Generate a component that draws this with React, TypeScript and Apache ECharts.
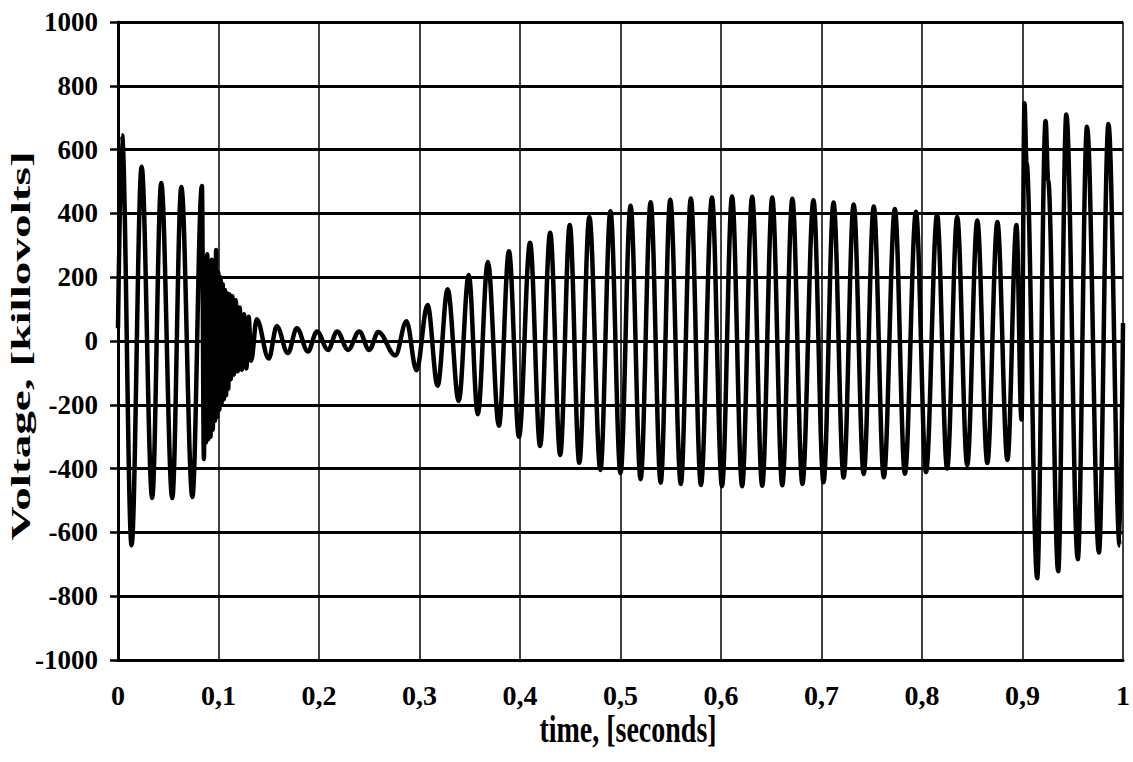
import React, { useEffect, useRef } from "react";
import * as echarts from "echarts";

// time [s], voltage [kV] at the extrema of the waveform
const preFault: [number, number][] = [
  [0, 40], [0.004, 645], [0.0135, -640], [0.0235, 546], [0.034, -492],
  [0.043, 495], [0.054, -492], [0.063, 483], [0.074, -489], [0.0835, 486],
];

const faultTransient: [number, number][] = [
  [0.0855, -370], [0.0866, 262], [0.0877, -318], [0.0888, 272], [0.0899, -308],
  [0.091, 245], [0.0921, -300], [0.0932, 255], [0.0943, -278], [0.0954, 230],
  [0.0965, -250], [0.0976, 285], [0.0987, -238], [0.0998, 215], [0.1009, -215],
  [0.102, 200], [0.1031, -195], [0.1042, 178], [0.1053, -182], [0.1064, 160],
  [0.1075, -170], [0.1086, 150], [0.1097, -150], [0.1108, 146], [0.1121, -120],
  [0.1137, 140], [0.1154, -105], [0.1172, 128], [0.1191, -95], [0.1211, 105],
  [0.1232, -90], [0.1254, 84], [0.1277, -86], [0.13, 76], [0.1325, -62],
];

const lowPhase: [number, number][] = [
  [0.138, 68], [0.15, -55], [0.158, 46], [0.169, -38], [0.178, 40],
  [0.189, -33], [0.198, 30], [0.209, -28], [0.218, 30], [0.229, -28],
  [0.24, 30], [0.25, -28], [0.259, 28], [0.276, -45],
];

const recovery: [number, number][] = [
  [0.287, 62], [0.297, -92], [0.308, 113], [0.318, -140], [0.328, 162],
  [0.339, -188], [0.349, 207], [0.358, -230], [0.368, 248], [0.379, -266],
  [0.389, 281], [0.399, -300], [0.41, 308], [0.42, -329], [0.43, 339],
  [0.44, -357], [0.4495, 364], [0.459, -382], [0.469, 389], [0.48, -404],
  [0.49, 407], [0.5, -414], [0.51, 424], [0.52, -433], [0.53, 435],
  [0.54, -444], [0.5495, 443], [0.56, -448], [0.57, 447], [0.58, -451],
  [0.591, 450], [0.601, -455], [0.611, 453], [0.621, -455], [0.631, 452],
  [0.641, -454], [0.651, 450], [0.661, -452], [0.671, 446], [0.681, -448],
  [0.692, 441], [0.702, -443], [0.712, 434], [0.722, -428], [0.732, 428],
  [0.742, -417], [0.752, 422], [0.762, -427], [0.773, 414], [0.783, -416],
  [0.794, 405], [0.804, -411], [0.815, 395], [0.825, -400], [0.835, 389],
  [0.845, -389], [0.855, 378], [0.865, -382], [0.875, 373], [0.885, -373],
  [0.894, 364],
];

const reclose: [number, number][] = [
  [0.899, -246], [0.902, 745], [0.904, 560], [0.9146, -744], [0.923, 690],
  [0.9255, 505], [0.9355, -722], [0.9436, 710], [0.955, -684], [0.9642, 672],
  [0.976, -663], [0.9855, 680], [0.9967, -641], [1.0, 56],
];

const xTickValues = [0, 0.1, 0.2, 0.3, 0.4, 0.5, 0.6, 0.7, 0.8, 0.9, 1];
const xTickLabels = ["0", "0,1", "0,2", "0,3", "0,4", "0,5", "0,6", "0,7", "0,8", "0,9", "1"];

const FONT = "'Liberation Serif', 'Times New Roman', serif";

export default function App() {
  const ref = useRef<HTMLDivElement>(null);

  useEffect(() => {
    if (!ref.current) return;
    const chart = echarts.init(ref.current, null, { renderer: "svg" });
    const data = [...preFault, ...faultTransient, ...lowPhase, ...recovery, ...reclose];
    chart.setOption({
      animation: false,
      backgroundColor: "#ffffff",
      grid: { left: 118, right: 5, top: 22, bottom: 102, containLabel: false },
      xAxis: {
        type: "value",
        min: 0,
        max: 1,
        interval: 0.1,
        axisLine: { show: true, onZero: false, lineStyle: { color: "#000", width: 3 } },
        axisTick: { show: false },
        axisLabel: {
          margin: 21,
          color: "#000",
          fontFamily: FONT,
          fontWeight: "bold",
          fontSize: 28,
          formatter: (v: number) => {
            const i = xTickValues.findIndex((t) => Math.abs(t - v) < 1e-6);
            return i >= 0 ? xTickLabels[i] : "";
          },
        },
        splitLine: { show: true, lineStyle: { color: "#000", width: 1.5 } },
      },
      yAxis: {
        type: "value",
        min: -1000,
        max: 1000,
        interval: 200,
        axisLine: { show: true, onZero: false, lineStyle: { color: "#000", width: 3 } },
        axisTick: { show: true, inside: false, length: 8, lineStyle: { color: "#000", width: 2.5 } },
        axisLabel: {
          margin: 20,
          color: "#000",
          fontFamily: FONT,
          fontWeight: "bold",
          fontSize: 27,
          formatter: (v: number) => String(v),
        },
        splitLine: { show: true, lineStyle: { color: "#000", width: 3 } },
      },
      graphic: [
        {
          type: "text",
          x: 628,
          y: 729,
          scaleY: 1.35,
          style: {
            text: "time, [seconds]",
            fill: "#000",
            font: `bold 28px ${FONT}`,
            textAlign: "center",
            textVerticalAlign: "middle",
          },
        },
        {
          type: "text",
          x: 21,
          y: 346,
          rotation: Math.PI / 2,
          scaleX: 1.75,
          style: {
            text: "Voltage, [killovolts]",
            fill: "#000",
            font: `bold 27px ${FONT}`,
            textAlign: "center",
            textVerticalAlign: "middle",
          },
        },
      ],
      series: [
        {
          type: "line",
          data,
          showSymbol: false,
          symbol: "none",
          smooth: 0.36,
          smoothMonotone: "x",
          lineStyle: { color: "#000", width: 4.5 },
          z: 5,
        },
      ],
    });
    return () => chart.dispose();
  }, []);

  return (
    <div
      ref={ref}
      style={{ position: "fixed", left: 0, top: 0, width: 1133, height: 762, background: "#fff" }}
    />
  );
}
